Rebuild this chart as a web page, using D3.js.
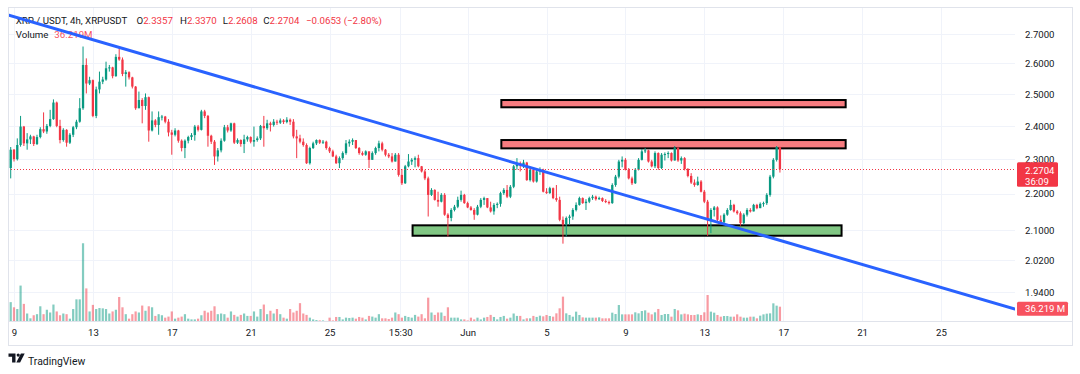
<!DOCTYPE html>
<html><head><meta charset="utf-8">
<script src="https://cdn.jsdelivr.net/npm/d3@7"></script>
<style>
html,body{margin:0;padding:0;background:#fff;}
svg{display:block;font-family:Roboto,"Noto Sans",sans-serif;}
</style></head><body>
<svg id="chart" width="1080" height="374"></svg>
<script>
// ---------------- DATA ----------------
const candleStart = "2025-05-08T20:00";   // first 4h candle
const candleHours = 4;
const firstOpen = 2.274;
const closes = [
2.328,2.300,2.342,2.398,2.347,2.359,2.368,2.345,2.366,2.390,
2.383,2.400,2.421,2.473,2.400,2.357,2.388,2.349,2.373,2.396,
2.413,2.455,2.595,2.534,2.545,2.431,2.515,2.540,2.547,2.584,
2.587,2.558,2.622,2.613,2.565,2.571,2.554,2.524,2.455,2.481,
2.462,2.490,2.386,2.417,2.403,2.427,2.429,2.413,2.380,2.373,
2.386,2.355,2.333,2.355,2.366,2.372,2.398,2.388,2.445,2.431,
2.370,2.352,2.308,2.326,2.355,2.396,2.386,2.408,2.349,2.357,
2.345,2.359,2.366,2.352,2.357,2.362,2.400,2.393,2.408,2.403,
2.413,2.410,2.417,2.412,2.419,2.413,2.368,2.362,2.352,2.342,
2.288,2.333,2.347,2.357,2.349,2.352,2.333,2.323,2.308,2.288,
2.303,2.318,2.347,2.352,2.357,2.333,2.318,2.313,2.323,2.298,
2.318,2.333,2.347,2.328,2.313,2.308,2.293,2.313,2.254,2.230,
2.279,2.293,2.298,2.303,2.279,2.264,2.244,2.197,2.211,2.183,
2.178,2.197,2.142,2.133,2.155,2.164,2.183,2.197,2.174,2.162,
2.155,2.142,2.164,2.183,2.188,2.162,2.151,2.169,2.172,2.202,
2.211,2.192,2.220,2.279,2.288,2.283,2.290,2.239,2.269,2.235,
2.264,2.269,2.206,2.202,2.216,2.188,2.183,2.128,2.115,2.133,
2.137,2.155,2.169,2.188,2.174,2.178,2.188,2.192,2.185,2.188,
2.180,2.177,2.174,2.225,2.249,2.293,2.298,2.269,2.244,2.230,
2.269,2.298,2.323,2.326,2.293,2.279,2.318,2.274,2.313,2.315,
2.318,2.296,2.333,2.296,2.303,2.271,2.251,2.232,2.225,2.235,
2.206,2.178,2.128,2.155,2.162,2.128,2.121,2.142,2.155,2.169,
2.151,2.146,2.119,2.142,2.155,2.151,2.169,2.160,2.172,2.174,
2.197,2.249,2.298,2.3357,2.2704];
const highs = [
2.336,2.330,2.362,2.431,2.400,2.378,2.373,2.370,2.373,2.396,
2.442,2.406,2.450,2.483,2.476,2.419,2.393,2.390,2.378,2.400,
2.419,2.487,2.657,2.617,2.556,2.547,2.524,2.573,2.556,2.606,
2.595,2.589,2.631,2.657,2.620,2.578,2.574,2.556,2.526,2.508,
2.487,2.502,2.492,2.445,2.421,2.445,2.434,2.431,2.421,2.388,
2.393,2.388,2.359,2.359,2.370,2.378,2.403,2.403,2.450,2.450,
2.434,2.373,2.357,2.333,2.362,2.403,2.403,2.410,2.410,2.362,
2.359,2.373,2.370,2.368,2.398,2.368,2.403,2.431,2.419,2.413,
2.421,2.419,2.423,2.421,2.427,2.423,2.421,2.388,2.373,2.362,
2.347,2.337,2.352,2.359,2.359,2.357,2.355,2.337,2.328,2.313,
2.308,2.323,2.357,2.359,2.362,2.357,2.336,2.323,2.326,2.323,
2.323,2.337,2.355,2.352,2.330,2.318,2.318,2.318,2.318,2.271,
2.283,2.315,2.303,2.308,2.313,2.280,2.269,2.249,2.216,2.213,
2.206,2.202,2.202,2.146,2.160,2.169,2.192,2.209,2.200,2.178,
2.166,2.160,2.169,2.188,2.192,2.185,2.178,2.174,2.176,2.206,
2.216,2.225,2.225,2.283,2.303,2.293,2.298,2.292,2.274,2.272,
2.269,2.276,2.272,2.216,2.220,2.218,2.225,2.192,2.137,2.137,
2.142,2.160,2.176,2.192,2.190,2.185,2.192,2.197,2.195,2.192,
2.190,2.185,2.181,2.230,2.254,2.298,2.308,2.303,2.274,2.249,
2.274,2.303,2.330,2.333,2.328,2.298,2.323,2.320,2.318,2.320,
2.323,2.320,2.339,2.337,2.308,2.306,2.274,2.259,2.241,2.249,
2.239,2.211,2.183,2.160,2.166,2.165,2.140,2.146,2.160,2.183,
2.172,2.155,2.151,2.146,2.160,2.160,2.172,2.172,2.176,2.178,
2.202,2.254,2.303,2.339,2.3370];
const lows = [
2.244,2.293,2.296,2.337,2.339,2.328,2.345,2.339,2.342,2.362,
2.378,2.376,2.396,2.419,2.396,2.347,2.352,2.337,2.345,2.366,
2.390,2.410,2.450,2.502,2.529,2.427,2.424,2.502,2.532,2.543,
2.573,2.551,2.556,2.609,2.558,2.524,2.547,2.518,2.450,2.455,
2.408,2.450,2.352,2.383,2.396,2.373,2.417,2.408,2.368,2.313,
2.368,2.349,2.323,2.303,2.347,2.357,2.355,2.383,2.386,2.424,
2.337,2.345,2.283,2.293,2.320,2.352,2.380,2.382,2.345,2.345,
2.337,2.318,2.352,2.347,2.337,2.352,2.357,2.337,2.388,2.383,
2.398,2.403,2.406,2.406,2.408,2.403,2.362,2.303,2.347,2.337,
2.286,2.284,2.330,2.342,2.345,2.345,2.328,2.318,2.306,2.286,
2.274,2.298,2.313,2.337,2.342,2.330,2.313,2.310,2.310,2.274,
2.298,2.313,2.323,2.323,2.308,2.303,2.290,2.298,2.249,2.225,
2.228,2.276,2.283,2.276,2.276,2.261,2.239,2.137,2.194,2.181,
2.164,2.176,2.139,2.083,2.124,2.151,2.160,2.178,2.172,2.160,
2.153,2.128,2.140,2.160,2.169,2.160,2.148,2.142,2.160,2.164,
2.197,2.188,2.188,2.216,2.269,2.264,2.274,2.237,2.235,2.232,
2.232,2.254,2.204,2.200,2.200,2.185,2.178,2.124,2.064,2.083,
2.115,2.128,2.151,2.167,2.172,2.155,2.174,2.183,2.181,2.183,
2.177,2.174,2.170,2.172,2.220,2.244,2.276,2.267,2.241,2.225,
2.228,2.267,2.296,2.318,2.290,2.276,2.274,2.269,2.271,2.296,
2.303,2.293,2.296,2.292,2.286,2.267,2.247,2.228,2.220,2.223,
2.204,2.174,2.085,2.092,2.137,2.124,2.117,2.119,2.139,2.153,
2.148,2.142,2.112,2.115,2.137,2.148,2.151,2.157,2.160,2.164,
2.169,2.192,2.244,2.293,2.2608];
const volumesM = [
47.0,34.8,30.7,86.2,42.9,20.1,8.7,16.0,18.5,37.2,
18.5,29.0,22.5,41.3,25.0,16.0,20.1,18.5,7.9,30.7,
53.6,53.6,186.4,79.5,25.0,40.5,30.7,33.1,32.3,30.7,
20.1,25.0,29.0,59.2,34.8,18.5,7.9,18.5,25.0,22.5,
38.9,26.6,37.2,34.8,14.4,18.5,16.0,10.3,12.8,25.0,
7.9,10.3,12.8,18.5,7.9,6.2,6.2,7.9,16.0,26.6,
22.5,26.6,37.2,18.5,20.1,18.5,10.3,25.0,16.8,12.8,
16.8,20.1,14.4,14.4,25.0,12.8,30.7,41.3,18.5,26.6,
20.1,30.7,18.5,10.3,7.9,30.7,22.5,26.6,44.6,20.1,
16.8,10.3,6.2,4.6,3.8,3.8,2.5,10.3,3.8,11.9,
11.9,6.2,10.3,9.5,10.3,7.9,11.9,10.3,6.2,14.4,
12.8,10.3,18.5,8.7,8.7,7.0,10.3,22.5,18.5,10.3,
14.4,11.9,10.3,16.8,12.8,18.5,8.7,57.6,22.5,16.8,
22.5,22.5,14.4,34.8,10.3,10.3,10.3,6.2,6.2,3.8,
10.3,6.2,10.3,6.2,10.3,11.9,16.8,11.9,6.2,11.9,
14.4,7.9,10.3,20.1,14.4,14.4,6.2,8.7,8.7,14.4,
12.0,15.0,13.4,16.6,14.2,12.6,20.5,32.4,60.0,20.5,
16.6,12.6,24.5,16.6,11.0,10.3,10.3,10.3,10.3,11.0,
8.7,8.7,8.7,22.1,18.9,40.2,18.1,18.1,18.1,18.1,
22.9,20.5,26.0,27.6,22.1,18.1,22.9,30.8,16.6,18.9,
18.9,12.6,30.8,27.6,18.1,19.7,18.1,16.6,16.6,18.1,
16.6,22.9,63.9,24.5,22.1,16.6,12.6,14.2,14.2,12.6,
12.6,18.1,12.6,10.3,10.3,12.6,12.6,8.7,15.0,18.1,
19.7,20.5,44.2,38.7,36.219];

const priceTicks = [2.7, 2.6, 2.5, 2.4, 2.3, 2.2, 2.1, 2.02, 1.94];
const timeTicks = ["2025-05-09T00:00","2025-05-13T00:00","2025-05-17T00:00","2025-05-21T00:00",
  "2025-05-25T00:00","2025-05-28T14:00","2025-06-01T00:00","2025-06-05T00:00","2025-06-09T00:00",
  "2025-06-13T00:00","2025-06-17T00:00","2025-06-21T00:00","2025-06-25T00:00"];
const timeTickLabels = ["9","13","17","21","25","15:30","Jun","5","9","13","17","21","25"];

// rectangles drawn on chart (resistance / support zones)
const zoneStarts = ["2025-06-02T17:00","2025-06-02T17:00","2025-05-29T05:00"];
const zoneEnds   = ["2025-06-20T04:00","2025-06-20T04:00","2025-06-19T23:00"];
const zoneTops   = [2.481, 2.357, 2.113];
const zoneBottoms= [2.458, 2.332, 2.085];
const zoneKinds  = ["resistance","resistance","support"];

// trend line (two anchor points)
const trendDates  = ["2025-05-08T16:40","2025-06-28T18:00"];
const trendPrices = [2.767, 1.898];

const symbolText = "XRP / USDT, 4h, XRPUSDT";
const countdown = "36:09";

// ---------------- CHART ----------------
const W = 1080, H = 374;
const PL = 8, PR = 1015, PT = 7, PB = 321, FR = 1072, FB = 345;
const UP = "#089981", DOWN = "#f23645";
const svg = d3.select("#chart");
const parse = d3.timeParse("%Y-%m-%dT%H:%M");

const x = d3.scaleTime()
  .domain([parse("2025-05-09T00:00"), parse("2025-06-25T00:00")])
  .range([14, 941]);
const y = d3.scaleLog().domain([2.7, 1.94]).range([34, 292]);
const yVol = d3.scaleLinear().domain([0, 100]).range([322, 322 - 100 / 2.367]);

const t0 = parse(candleStart);
const candles = closes.map((c, i) => {
  const o = i === 0 ? firstOpen : closes[i - 1];
  return {
    t: d3.timeHour.offset(t0, candleHours * i),
    o, c,
    h: Math.max(highs[i], o, c),
    l: Math.min(lows[i], o, c),
    v: volumesM[i]
  };
});

svg.append("rect").attr("width", W).attr("height", H).attr("fill", "#ffffff");

svg.append("clipPath").attr("id", "plot")
  .append("rect").attr("x", PL).attr("y", PT).attr("width", PR - PL).attr("height", PB - PT);

// grid
const grid = svg.append("g").attr("stroke", "#f0f3fa").attr("stroke-width", 1);
grid.selectAll("line.h").data(priceTicks).join("line")
  .attr("x1", PL).attr("x2", PR)
  .attr("y1", d => Math.round(y(d)) + 0.5).attr("y2", d => Math.round(y(d)) + 0.5);
grid.selectAll("line.v").data(timeTicks).join("line")
  .attr("y1", PT).attr("y2", PB)
  .attr("x1", d => Math.round(x(parse(d))) + 0.5).attr("x2", d => Math.round(x(parse(d))) + 0.5);

const plot = svg.append("g").attr("clip-path", "url(#plot)");

// volume
plot.append("g").selectAll("rect").data(candles).join("rect")
  .attr("x", d => x(d.t) - 1.1).attr("width", 2.2)
  .attr("y", d => yVol(d.v)).attr("height", d => yVol(0) - yVol(d.v))
  .attr("fill", d => d.c >= d.o ? UP : DOWN).attr("fill-opacity", 0.5);

// zones
plot.append("g").selectAll("rect").data(zoneStarts).join("rect")
  .attr("x", (d, i) => x(parse(d)))
  .attr("width", (d, i) => x(parse(zoneEnds[i])) - x(parse(d)))
  .attr("y", (d, i) => y(zoneTops[i]))
  .attr("height", (d, i) => y(zoneBottoms[i]) - y(zoneTops[i]))
  .attr("fill", (d, i) => zoneKinds[i] === "support" ? "#81c784" : "#f77c80")
  .attr("stroke", "#000").attr("stroke-width", 2);

// candles
const cg = plot.append("g");
cg.selectAll("line").data(candles).join("line")
  .attr("x1", d => x(d.t)).attr("x2", d => x(d.t))
  .attr("y1", d => y(d.h)).attr("y2", d => y(d.l))
  .attr("stroke", d => d.c >= d.o ? UP : DOWN).attr("stroke-width", 1);
cg.selectAll("rect").data(candles).join("rect")
  .attr("x", d => x(d.t) - 1.15).attr("width", 2.3)
  .attr("y", d => y(Math.max(d.o, d.c)))
  .attr("height", d => Math.max(1, y(Math.min(d.o, d.c)) - y(Math.max(d.o, d.c))))
  .attr("fill", d => d.c >= d.o ? UP : DOWN);

// last price line
const last = candles[candles.length - 1];
plot.append("line")
  .attr("x1", PL).attr("x2", PR)
  .attr("y1", Math.round(y(last.c)) + 0.5).attr("y2", Math.round(y(last.c)) + 0.5)
  .attr("stroke", DOWN).attr("stroke-width", 1).attr("stroke-dasharray", "1,2");

// header legend
const fmt4 = d3.format(".4f");
const chg = last.c - last.o;
const pct = chg / last.o * 100;
const minus = v => (v < 0 ? "\u2212" : "+") + Math.abs(v);
const hdr = svg.append("g").attr("font-size", 9.7);
hdr.append("text").attr("x", 15.7).attr("y", 24).attr("fill", "#131722").text(symbolText);
const legendItems = [["O", last.o, 136.5], ["H", last.h, 180], ["L", last.l, 222.7], ["C", last.c, 263.3]];
legendItems.forEach(([k, v, px]) => {
  const t = hdr.append("text").attr("x", px).attr("y", 24);
  t.append("tspan").attr("fill", "#131722").text(k);
  t.append("tspan").attr("fill", DOWN).text(fmt4(v));
});
hdr.append("text").attr("x", 306).attr("y", 24).attr("fill", DOWN)
  .text((chg < 0 ? "\u2212" : "+") + fmt4(Math.abs(chg)) + " (" + (pct < 0 ? "\u2212" : "+") + Math.abs(pct).toFixed(2) + "%)");
hdr.append("text").attr("x", 15.7).attr("y", 38.3).attr("fill", "#131722").text("Volume");
hdr.append("text").attr("x", 54.3).attr("y", 38.3).attr("fill", "#f7525f").text(last.v.toFixed(3) + "M");

// trend line (drawn above legend like the reference)
svg.append("g").attr("clip-path", "url(#plot)").append("line")
  .attr("x1", x(parse(trendDates[0]))).attr("y1", y(trendPrices[0]))
  .attr("x2", x(parse(trendDates[1]))).attr("y2", y(trendPrices[1]))
  .attr("stroke", "#2962ff").attr("stroke-width", 3).attr("stroke-linecap", "round");

// axes
const yAxis = d3.axisRight(y).tickValues(priceTicks).tickFormat(fmt4).tickSize(0).tickPadding(0);
const gy = svg.append("g").attr("transform", `translate(1025,0)`).call(yAxis);
gy.select(".domain").remove();
gy.selectAll("text").attr("font-size", 9.6).attr("fill", "#131722").attr("font-family", "Roboto");

const xAxis = d3.axisBottom(x).tickValues(timeTicks.map(parse))
  .tickFormat((d, i) => timeTickLabels[i]).tickSize(0).tickPadding(7.8);
const gx = svg.append("g").attr("transform", `translate(0,${PB})`).call(xAxis);
gx.select(".domain").remove();
gx.selectAll("text").attr("font-size", 9.6).attr("fill", "#131722").attr("font-family", "Roboto");

// frame lines
const frame = svg.append("g").attr("stroke", "#e0e3eb").attr("stroke-width", 1).attr("fill", "none");
frame.append("rect").attr("x", PL + 0.5).attr("y", PT + 0.5).attr("width", FR - PL).attr("height", FB - PT);
frame.append("line").attr("x1", PL).attr("x2", FR + 0.5).attr("y1", PB + 0.5).attr("y2", PB + 0.5);

// last price label
const py = y(last.c);
svg.append("rect").attr("x", 1017).attr("y", py - 7).attr("width", 41).attr("height", 24.5)
  .attr("rx", 1.5).attr("fill", DOWN);
svg.append("text").attr("x", 1025).attr("y", py + 4.5).attr("font-size", 9.6)
  .attr("fill", "#fff").text(fmt4(last.c));
svg.append("text").attr("x", 1025).attr("y", py + 15.5).attr("font-size", 9.6)
  .attr("fill", "#fff").text(countdown);

// last volume label
const vy = yVol(last.v);
svg.append("rect").attr("x", 1017).attr("y", vy - 5).attr("width", 51).attr("height", 14)
  .attr("rx", 1.5).attr("fill", "#f7525f");
svg.append("text").attr("x", 1025).attr("y", vy + 5.6).attr("font-size", 9.6)
  .attr("fill", "#fff").text(last.v.toFixed(3) + " M");

// TradingView logo
const logo = svg.append("g").attr("transform", "translate(8.5,353.5)").attr("fill", "#131722");
logo.append("path").attr("d", "M0,0H7V9H3.6V3.2H0Z");
logo.append("circle").attr("cx", 9.7).attr("cy", 1.6).attr("r", 1.6);
logo.append("path").attr("d", "M12.4,0H16.2L11.6,9H7.8Z");
svg.append("text").attr("x", 28).attr("y", 364.5).attr("font-size", 10.4)
  .attr("fill", "#131722").text("TradingView");
</script>
</body></html>
